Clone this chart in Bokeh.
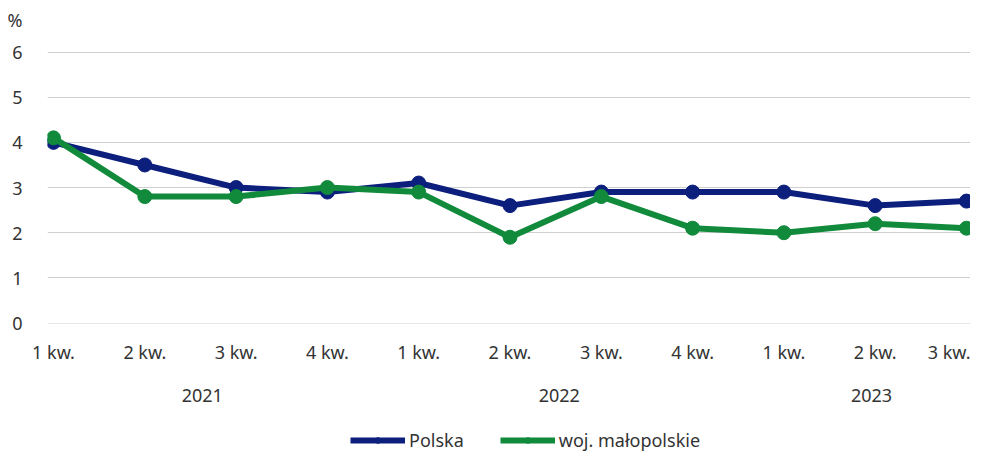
from bokeh.plotting import figure
from bokeh.layouts import column
from bokeh.models import (Range1d, FixedTicker, LinearAxis, Legend, LegendItem)
from bokeh.embed import file_html
from bokeh.resources import INLINE

quarters = ["1 kw.", "2 kw.", "3 kw.", "4 kw.", "1 kw.", "2 kw.", "3 kw.", "4 kw.", "1 kw.", "2 kw.", "3 kw."]
years = ["2021", "2022", "2023"]
year_pos = [1.63, 5.54, 8.96]
polska = [4.0, 3.5, 3.0, 2.9, 3.1, 2.6, 2.9, 2.9, 2.9, 2.6, 2.7]
malopolskie = [4.1, 2.8, 2.8, 3.0, 2.9, 1.9, 2.8, 2.1, 2.0, 2.2, 2.1]
y_ticks = [0, 1, 2, 3, 4, 5, 6]
unit_pos = 6.71
unit_label = "%"
series_names = ["Polska", "woj. małopolskie"]

NAVY = "#0c1f7d"
GREEN = "#118a3c"
TXT = "#333333"
FONT = "Noto Sans"
FS = "18px"

x = list(range(len(quarters)))

p = figure(frame_width=923, frame_height=305, output_backend="svg", toolbar_location=None,
           x_range=Range1d(-0.066, 10.044), y_range=Range1d(-0.01, 6.743),
           min_border_left=47, min_border_right=0, min_border_top=18,
           min_border_bottom=92, x_axis_location=None)
p.outline_line_color = None
p.background_fill_color = "white"
p.border_fill_color = "white"
p.xgrid.visible = False
p.ygrid.ticker = FixedTicker(ticks=y_ticks)
p.ygrid.grid_line_color = "#cfcfcf"
p.ygrid.grid_line_width = 1

ya = p.yaxis[0]
ya.ticker = FixedTicker(ticks=y_ticks + [unit_pos])
ya.major_label_overrides = {unit_pos: unit_label}
ya.axis_line_color = None
ya.major_tick_line_color = None
ya.minor_tick_line_color = None
ya.major_label_standoff = 19
ya.major_label_text_font = FONT
ya.major_label_text_font_size = FS
ya.major_label_text_color = TXT

xa = LinearAxis(ticker=FixedTicker(ticks=x),
                major_label_overrides={i: q for i, q in enumerate(quarters)})
xa.axis_line_color = None
xa.major_tick_line_color = None
xa.minor_tick_line_color = None
xa.major_label_standoff = 10
xa.major_label_text_font = FONT
xa.major_label_text_font_size = FS
xa.major_label_text_color = TXT
p.add_layout(xa, "below")

ya2 = LinearAxis(ticker=FixedTicker(ticks=year_pos),
                 major_label_overrides={pos: y for pos, y in zip(year_pos, years)})
ya2.axis_line_color = None
ya2.major_tick_line_color = None
ya2.minor_tick_line_color = None
ya2.major_label_standoff = 16
ya2.major_label_text_font = FONT
ya2.major_label_text_font_size = FS
ya2.major_label_text_color = TXT
p.add_layout(ya2, "below")

p.line(x, polska, line_color=NAVY, line_width=6)
p.scatter(x, polska, size=14, fill_color=NAVY, line_color=NAVY)
p.line(x, malopolskie, line_color=GREEN, line_width=6)
p.scatter(x, malopolskie, size=14, fill_color=GREEN, line_color=GREEN)

# legend strip below the chart (series drawn outside its visible range, only legend shows)
lg = figure(width=970, height=37, output_backend="svg", toolbar_location=None,
            x_range=Range1d(0, 1), y_range=Range1d(-2, -1),
            min_border_left=0, min_border_right=0, min_border_top=0, min_border_bottom=0,
            x_axis_location=None, y_axis_location=None)
lg.outline_line_color = None
lg.xgrid.visible = False
lg.ygrid.visible = False
lg.border_fill_color = "white"
ll1 = lg.line(x, polska, line_color=NAVY, line_width=6)
ls1 = lg.scatter(x, polska, size=8, fill_color=NAVY, line_color=NAVY)
ll2 = lg.line(x, malopolskie, line_color=GREEN, line_width=6)
ls2 = lg.scatter(x, malopolskie, size=8, fill_color=GREEN, line_color=GREEN)
legend = Legend(items=[LegendItem(label=series_names[0], renderers=[ll1, ls1]),
                       LegendItem(label=series_names[1], renderers=[ll2, ls2])],
                orientation="horizontal", location=(303, 0),
                glyph_width=55, glyph_height=14, label_standoff=4, spacing=36,
                label_text_font=FONT, label_text_font_size=FS,
                label_text_color=TXT, border_line_color=None,
                background_fill_alpha=0, padding=2, margin=0)
lg.add_layout(legend, "center")

layout = column(p, lg, spacing=0)
open("out.html", "w").write(file_html(layout, INLINE))
